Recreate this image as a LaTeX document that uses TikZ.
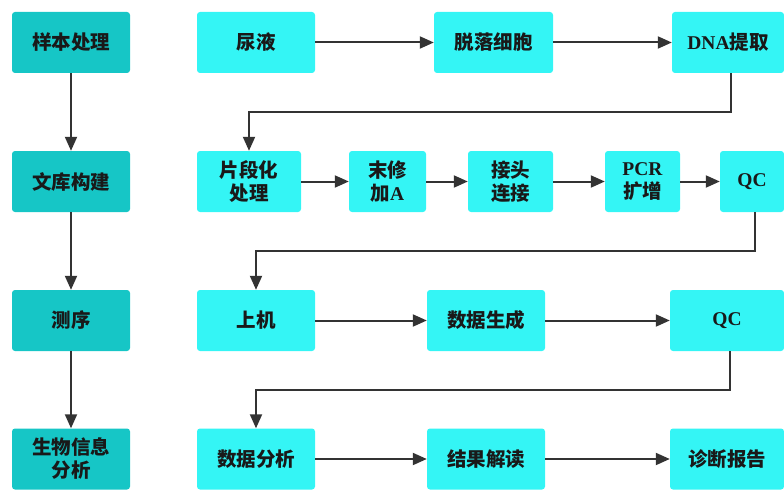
\documentclass[tikz,border=0pt]{standalone}
\usepackage{fontspec}
\setmainfont{Noto Sans CJK SC}
\newfontfamily\lat{Liberation Serif}
\usetikzlibrary{arrows.meta}
\definecolor{darkbox}{RGB}{22,198,198}
\definecolor{lightbox}{RGB}{52,245,245}
\definecolor{linec}{RGB}{51,51,51}
\definecolor{txt}{RGB}{25,25,25}
\tikzset{
  basebox/.style={rounded corners=3pt, inner sep=0pt, align=center, text=txt,
    font=\fontsize{19.5}{23}\selectfont\bfseries, minimum height=61pt},
  leftbox/.style={basebox, fill=darkbox},
  rightbox/.style={basebox, fill=lightbox},
  arr/.style={draw=linec, line width=2pt, -{Triangle[length=14pt,width=12pt]}},
  seg/.style={draw=linec, line width=2pt}
}
\begin{document}
\begin{tikzpicture}[x=1pt,y=-1pt]
\useasboundingbox (0,0) rectangle (784,492);
% left column
\node[leftbox, minimum width=118pt] (l1) at (71,42.5) {样本处理};
\node[leftbox, minimum width=118pt] (l2) at (71,181.5) {文库构建};
\node[leftbox, minimum width=118pt] (l3) at (71,320.5) {测序};
\node[leftbox, minimum width=118pt] (l4) at (71,459) {生物信息\\分析};
% row 1
\node[rightbox, minimum width=118pt] (r11) at (256,42.5) {尿液};
\node[rightbox, minimum width=119pt] (r12) at (493.5,42.5) {脱落细胞};
\node[rightbox, minimum width=112pt] (r13) at (728,42.5) {{\lat\bfseries DNA}提取};
% row 2
\node[rightbox, minimum width=104pt] (r21) at (249,181.5) {片段化\\处理};
\node[rightbox, minimum width=77pt] (r22) at (387.5,181.5) {末修\\加{\lat\bfseries A}};
\node[rightbox, minimum width=85pt] (r23) at (510.5,181.5) {接头\\连接};
\node[rightbox, minimum width=75pt] (r24) at (642.5,181.5) {{\lat\bfseries PCR}\\扩增};
\node[rightbox, minimum width=64pt] (r25) at (752,181.5) {{\lat\bfseries QC}};
% row 3
\node[rightbox, minimum width=118pt] (r31) at (256,320.5) {上机};
\node[rightbox, minimum width=118pt] (r32) at (486,320.5) {数据生成};
\node[rightbox, minimum width=114pt] (r33) at (727,320.5) {{\lat\bfseries QC}};
% row 4
\node[rightbox, minimum width=118pt] (r41) at (256,459) {数据分析};
\node[rightbox, minimum width=118pt] (r42) at (486,459) {结果解读};
\node[rightbox, minimum width=114pt] (r43) at (727,459) {诊断报告};
% left arrows
\draw[arr] (l1) -- (l2);
\draw[arr] (l2) -- (l3);
\draw[arr] (l3) -- (l4);
% row arrows
\draw[arr] (r11) -- (r12);
\draw[arr] (r12) -- (r13);
\draw[arr] (r21) -- (r22);
\draw[arr] (r22) -- (r23);
\draw[arr] (r23) -- (r24);
\draw[arr] (r24) -- (r25);
\draw[arr] (r31) -- (r32);
\draw[arr] (r32) -- (r33);
\draw[arr] (r41) -- (r42);
\draw[arr] (r42) -- (r43);
% elbows
\draw[arr] ([xshift=3pt]r13.south) -- ++(0,39) -| (r21.north);
\draw[arr] ([xshift=3pt]r25.south) -- ++(0,39) -| (r31.north);
\draw[arr] ([xshift=3pt]r33.south) -- ++(0,39) -| (r41.north);
\end{tikzpicture}
\end{document}
